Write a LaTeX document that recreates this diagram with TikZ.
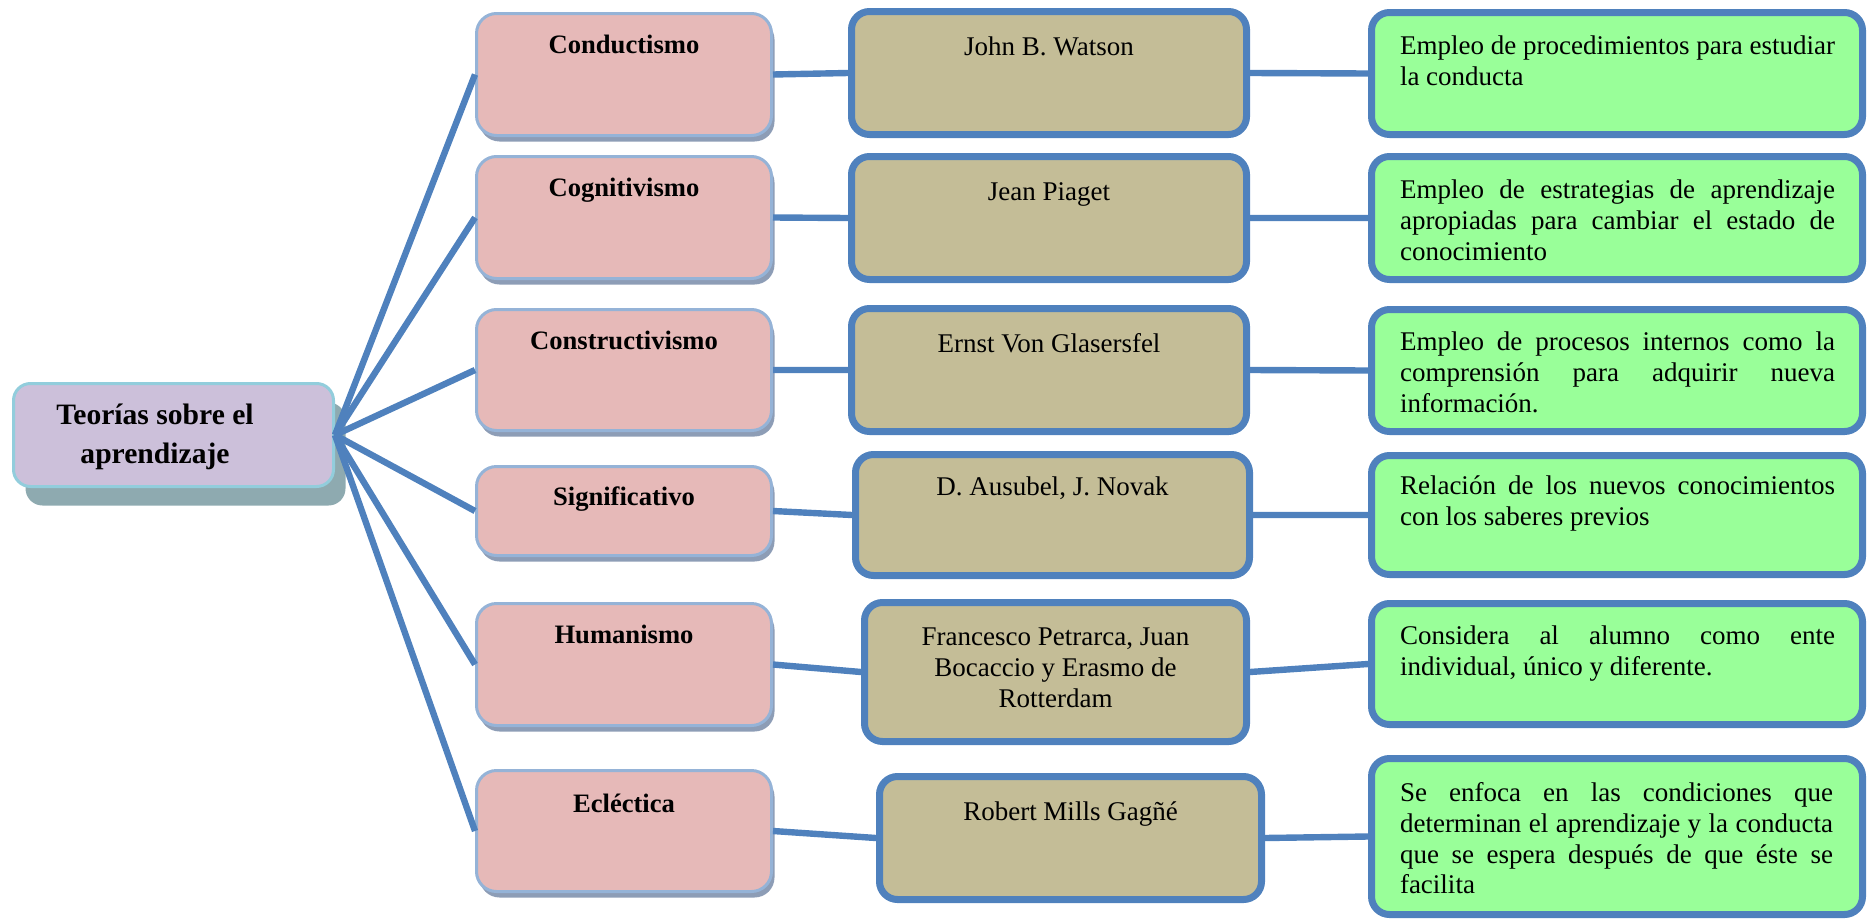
\documentclass[tikz,border=0pt]{standalone}
\usepackage{fontspec}
\setmainfont{Liberation Serif}
\usepackage{tikz}
\usetikzlibrary{shadows}
\usepackage{xcolor}
\definecolor{linkblue} {RGB}{ 79, 129, 189}
\definecolor{hubfill}  {RGB}{204, 192, 218}
\definecolor{hubline}  {RGB}{146, 205, 220}
\definecolor{hubshade} {RGB}{142, 170, 176}
\definecolor{pinkfill} {RGB}{230, 185, 184}
\definecolor{pinkline} {RGB}{149, 179, 215}
\definecolor{pinkshade}{RGB}{141, 157, 182}
\definecolor{tanfill}  {RGB}{196, 189, 151}
\definecolor{greenfill}{RGB}{153, 255, 153}
\hbadness=10000
\hyphenpenalty=10000
% box of fixed size, text hung from the top
\newcommand{\boxtext}[4]{\parbox[c][#2][t]{#1}{\vspace*{#3}#4}}

\begin{document}
\begin{tikzpicture}[
  x=0.5pt,y=-0.5pt,
  every node/.style={inner sep=0pt,font=\fontsize{13.5pt}{15.5pt}\selectfont},
  hub/.style={draw=hubline,line width=1.5pt,fill=hubfill,rounded corners=8.5pt,
              font=\fontsize{14.8pt}{19.5pt}\selectfont\bfseries,
              drop shadow={shadow xshift=6pt,shadow yshift=-9.5pt,fill=hubshade,opacity=1}},
  theory/.style={draw=pinkline,line width=1.5pt,fill=pinkfill,rounded corners=10pt,
                 font=\fontsize{13.3pt}{15.5pt}\selectfont\bfseries,
                 drop shadow={shadow xshift=1.5pt,shadow yshift=-3pt,fill=pinkshade,opacity=1}},
  author/.style={draw=linkblue,line width=3.5pt,fill=tanfill,rounded corners=9pt},
  idea/.style={draw=linkblue,line width=3.5pt,fill=greenfill,rounded corners=9pt,
               font=\fontsize{13.5pt}{15.3pt}\selectfont},
  link/.style={draw=linkblue,line width=3.2pt},
]
\useasboundingbox (0,0) rectangle (1868,921);

%% ── Root ─────────────────────────────────────────────────────────────────
\node[hub] (teorias) at (173.5,435)
  {\boxtext{160pt}{51.5pt}{6.6pt}{\centering\rightskip=18.5pt plus 1fil\strut
   Teorías sobre el\\aprendizaje}};

%% ── Theories ─────────────────────────────────────────────────────────────
\node[theory] (conduct)  at (624,74.5)  {\boxtext{147.5pt}{61pt}{9pt}{\centering\strut Conductismo}};
\node[theory] (cognit)   at (624,217.5) {\boxtext{147.5pt}{61pt}{9pt}{\centering\strut Cognitivismo}};
\node[theory] (construc) at (624,370)   {\boxtext{147.5pt}{60.5pt}{9pt}{\centering\strut Constructivismo}};
\node[theory] (signif)   at (624,511)   {\boxtext{147.5pt}{44.5pt}{8.4pt}{\centering\strut Significativo}};
\node[theory] (human)    at (624,664.5) {\boxtext{147.5pt}{61pt}{9pt}{\centering\strut Humanismo}};
\node[theory] (eclect)   at (624,831)   {\boxtext{147.5pt}{60.5pt}{9.9pt}{\centering\strut Ecléctica}};

%% ── Authors ──────────────────────────────────────────────────────────────
\node[author] (watson)   at (1049,73)     {\boxtext{197.5pt}{61.5pt}{10.9pt}{\centering\strut John B. Watson}};
\node[author] (piaget)   at (1049,218)    {\boxtext{197.5pt}{61.5pt}{10.9pt}{\centering\strut Jean Piaget}};
\node[author] (glasers)  at (1049,370)    {\boxtext{197.5pt}{61.5pt}{10.9pt}{\centering\strut Ernst Von Glasersfel}};
\node[author] (ausubel)  at (1052.5,515)  {\boxtext{197pt}{60.5pt}{9.4pt}{\centering\strut D. Ausubel, J. Novak}};
\node[author] (petrarca) at (1055.5,672)  {\boxtext{191pt}{69.5pt}{10.4pt}{\centering\strut
  Francesco Petrarca, Juan\\Bocaccio y Erasmo de\\Rotterdam}};
\node[author] (gagne)    at (1070.5,838)  {\boxtext{191pt}{61.5pt}{10.9pt}{\centering\strut Robert Mills Gagñé}};

%% ── Descriptions ─────────────────────────────────────────────────────────
\node[idea] (dconduct) at (1617,73.5) {\boxtext{245.5pt}{61pt}{10.5pt}{\leftskip=14.25pt\rightskip=13.75pt\strut
  Empleo de procedimientos para estudiar\linebreak la conducta}};
\node[idea] (dcognit) at (1617,218) {\boxtext{245.5pt}{61.5pt}{10.5pt}{\leftskip=14.25pt\rightskip=13.75pt\strut
  Empleo de estrategias de aprendizaje\linebreak apropiadas para cambiar el estado de\linebreak conocimiento}};
\node[idea] (dconstruc) at (1617,370.5) {\boxtext{245.5pt}{61pt}{10pt}{\leftskip=14.25pt\rightskip=13.75pt\strut
  Empleo de procesos internos como la\linebreak comprensión para adquirir nueva\linebreak información.}};
\node[idea] (dsignif) at (1617,515) {\boxtext{245.5pt}{59.5pt}{9pt}{\leftskip=14.25pt\rightskip=13.75pt\strut
  Relación de los nuevos conocimientos\linebreak con los saberes previos}};
\node[idea] (dhuman) at (1617,664) {\boxtext{245.5pt}{60.5pt}{10pt}{\leftskip=14.25pt\rightskip=13.75pt\strut
  Considera al alumno como ente\linebreak individual, único y diferente.}};
\node[idea] (declect) at (1617,836.5) {\boxtext{245.5pt}{78pt}{11pt}{\leftskip=14.25pt\rightskip=14.75pt\strut
  Se enfoca en las condiciones que\linebreak determinan el aprendizaje y la conducta\linebreak
  que se espera después de que éste se\linebreak facilita}};

%% ── Connections ──────────────────────────────────────────────────────────
%% root → theories
\draw[link] (teorias.east) -- (conduct.west);
\draw[link] (teorias.east) -- (cognit.west);
\draw[link] (teorias.east) -- (construc.west);
\draw[link] (teorias.east) -- (signif.west);
\draw[link] (teorias.east) -- (human.west);
\draw[link] (teorias.east) -- (eclect.west);

%% theories → authors → descriptions
\draw[link] (conduct.east)  -- (watson.west)   (watson.east)   -- (dconduct.west);
\draw[link] (cognit.east)   -- (piaget.west)   (piaget.east)   -- (dcognit.west);
\draw[link] (construc.east) -- (glasers.west)  (glasers.east)  -- (dconstruc.west);
\draw[link] (signif.east)   -- (ausubel.west)  (ausubel.east)  -- (dsignif.west);
\draw[link] (human.east)    -- (petrarca.west) (petrarca.east) -- (dhuman.west);
\draw[link] (eclect.east)   -- (gagne.west)    (gagne.east)    -- (declect.west);

\end{tikzpicture}
\end{document}
